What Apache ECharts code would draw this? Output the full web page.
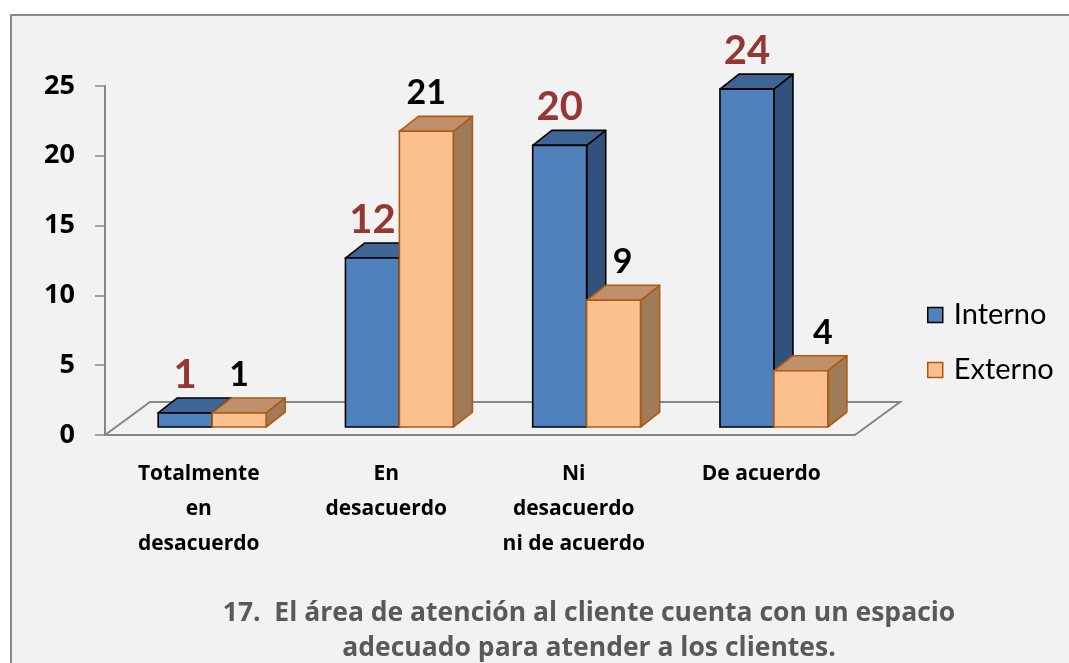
<!DOCTYPE html>
<html>
<head>
<meta charset="utf-8">
<script src="https://cdn.jsdelivr.net/npm/echarts@6/dist/echarts.min.js"></script>
<style>
  html, body { margin: 0; padding: 0; background: #fff; overflow: hidden; }
  #frame {
    position: absolute; left: 10px; top: 14px; width: 1100px; height: 700px;
    border: 2px solid #8a8a8a; background: #f2f2f2;
  }
  #chart { position: absolute; left: 0; top: 0; width: 1069px; height: 663px; }
</style>
</head>
<body>
<div id="frame"></div>
<div id="chart"></div>
<script>
// datos de la pregunta 17
const categories = ['Totalmente\nen\ndesacuerdo', 'En\ndesacuerdo', 'Ni\ndesacuerdo\nni de acuerdo', 'De acuerdo'];
const interno = [1, 12, 20, 24];
const externo = [1, 21, 9, 4];
const yTicks = [0, 5, 10, 15, 20, 25];

const FONT = 'Lato';
const FONT_TXT = '"Open Sans"';
const AXIS_GRAY = '#868686';

// colores de las caras (frente, arriba, lado, borde, etiqueta)
const azul = { front: '#4F81BD', top: '#3D6596', side: '#31527C', stroke: '#000000', label: '#953735', size: 40 };
const naranja = { front: '#FAC090', top: '#C0906A', side: '#A07B59', stroke: '#B05A10', label: '#000000', size: 34 };
// desplazamiento horizontal de las etiquetas de Externo (como en el original)
const externoLabelShift = [0, 0, 9, 22];

// caja 3D: side -1 = a la izquierda del centro, 1 = a la derecha
function boxRenderer(side, pal, shifts) {
  return function (params, api) {
    const idx = api.value(0);
    const base = api.coord([idx, 0]);
    const top = api.coord([idx, api.value(1)]);
    const band = api.size([1, 0])[0];
    const w = band * 0.288;
    const dx = band * 0.102;
    const dy = -band * 0.08;
    const x0 = side < 0 ? base[0] - w : base[0];
    const x1 = x0 + w;
    const yb = base[1];
    const yt = top[1];
    const lw = 1.6;
    const shift = shifts ? shifts[params.dataIndex] : 0;
    return {
      type: 'group',
      children: [
        {
          type: 'polygon',
          shape: { points: [[x1, yt], [x1 + dx, yt + dy], [x1 + dx, yb + dy], [x1, yb]] },
          style: { fill: pal.side, stroke: pal.stroke, lineWidth: lw, lineJoin: 'round' }
        },
        {
          type: 'polygon',
          shape: { points: [[x0, yt], [x1, yt], [x1 + dx, yt + dy], [x0 + dx, yt + dy]] },
          style: { fill: pal.top, stroke: pal.stroke, lineWidth: lw, lineJoin: 'round' }
        },
        {
          type: 'rect',
          shape: { x: x0, y: yt, width: w, height: yb - yt },
          style: { fill: pal.front, stroke: pal.stroke, lineWidth: lw }
        },
        {
          type: 'text',
          x: (x0 + x1) / 2 + shift,
          y: yt + dy - 23,
          style: {
            text: String(api.value(1)),
            fill: pal.label,
            font: 'bold ' + pal.size + 'px ' + FONT,
            align: 'center',
            verticalAlign: 'middle'
          }
        }
      ]
    };
  };
}

// piso en perspectiva
function floorRenderer(params, api) {
  const band = api.size([1, 0])[0];
  const first = api.coord([0, 0]);
  const last = api.coord([categories.length - 1, 0]);
  const xl = first[0] - band / 2;
  const xr = last[0] + band / 2;
  const y = first[1];
  const dx = 45, dy = -33;
  return {
    type: 'polyline',
    shape: { points: [[xl, y], [xl + dx, y + dy], [xr + dx, y + dy], [xr, y]] },
    style: { fill: null, stroke: AXIS_GRAY, lineWidth: 2 }
  };
}

const chart = echarts.init(document.getElementById('chart'), null, { renderer: 'canvas' });

chart.setOption({
  backgroundColor: 'transparent',
  animation: false,
  textStyle: { fontFamily: FONT },
  title: {
    text: '17.  El área de atención al cliente cuenta con un espacio\nadecuado para atender a los clientes.',
    left: 584,
    top: 591,
    textAlign: 'center',
    textStyle: { fontFamily: FONT_TXT, fontSize: 26.5, fontWeight: 'bold', color: '#595959', lineHeight: 35 }
  },
  legend: {
    orient: 'vertical',
    left: 927,
    top: 300,
    padding: 0,
    itemWidth: 15,
    itemHeight: 15,
    itemGap: 25,
    icon: 'rect',
    textStyle: { fontFamily: FONT, fontSize: 29, color: '#000', lineHeight: 30, padding: [0, 0, 0, 6] },
    data: [
      { name: 'Interno', itemStyle: { color: azul.front, borderColor: '#000', borderWidth: 1.5 } },
      { name: 'Externo', itemStyle: { color: naranja.front, borderColor: naranja.stroke, borderWidth: 1.5 } }
    ]
  },
  grid: [
    { left: 105, top: 86, width: 750, height: 349 },
    { left: 118.5, top: 75, width: 749, height: 352 }
  ],
  xAxis: [
    {
      type: 'category',
      gridIndex: 0,
      data: categories,
      axisLine: { lineStyle: { color: AXIS_GRAY, width: 2 } },
      axisTick: { length: 7, lineStyle: { color: AXIS_GRAY, width: 1.5 } },
      axisLabel: {
        interval: 0, margin: 22, color: '#000',
        fontFamily: FONT_TXT, fontSize: 21, fontWeight: 'bold', lineHeight: 35
      }
    },
    { type: 'category', gridIndex: 1, data: categories, show: false }
  ],
  yAxis: [
    {
      type: 'value',
      gridIndex: 0,
      min: yTicks[0],
      max: yTicks[yTicks.length - 1],
      interval: 5,
      splitLine: { show: false },
      axisLine: { show: true, lineStyle: { color: AXIS_GRAY, width: 2 } },
      axisTick: { show: true, length: 10, lineStyle: { color: AXIS_GRAY, width: 1.5 } },
      axisLabel: { margin: 30, color: '#000', fontFamily: FONT_TXT, fontSize: 27, fontWeight: 'bold' }
    },
    { type: 'value', gridIndex: 1, min: 0, max: 25, show: false }
  ],
  series: [
    {
      type: 'custom',
      name: 'piso',
      xAxisIndex: 0,
      yAxisIndex: 0,
      z: 1,
      silent: true,
      renderItem: floorRenderer,
      data: [[0, 0]]
    },
    {
      type: 'custom',
      name: 'Interno',
      xAxisIndex: 1,
      yAxisIndex: 1,
      z: 2,
      itemStyle: { color: azul.front, borderColor: '#000', borderWidth: 1.5 },
      renderItem: boxRenderer(-1, azul, null),
      data: interno.map((v, i) => [i, v])
    },
    {
      type: 'custom',
      name: 'Externo',
      xAxisIndex: 1,
      yAxisIndex: 1,
      z: 3,
      itemStyle: { color: naranja.front, borderColor: naranja.stroke, borderWidth: 1.5 },
      renderItem: boxRenderer(1, naranja, externoLabelShift),
      data: externo.map((v, i) => [i, v])
    }
  ]
});

window.addEventListener('resize', () => chart.resize());
</script>
</body>
</html>
